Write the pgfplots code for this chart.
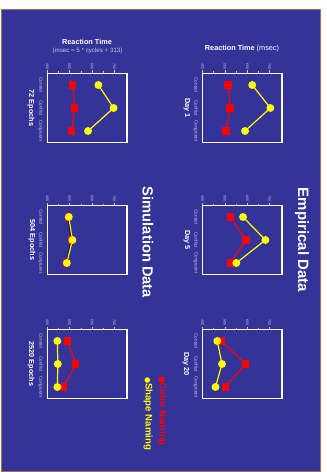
\documentclass[border=0pt]{standalone}
\usepackage{pgfplots}
\pgfplotsset{compat=1.18}
\usepackage{fontspec}
\setmainfont{Liberation Sans}
\newfontfamily\symfont{DejaVu Sans}
\definecolor{slidebg}{RGB}{51,51,153}
\definecolor{slideedge}{RGB}{170,110,60}
\definecolor{framec}{RGB}{255,255,225}
\definecolor{ticklab}{RGB}{200,200,215}
\definecolor{cred}{RGB}{255,0,0}
\definecolor{cyel}{RGB}{255,255,0}
\pgfplotsset{
 panel/.style={
  scale only axis, width=79.5pt, height=69pt,
  xmin=400, xmax=755, ymin=-0.5, ymax=2.5, y dir=reverse,
  axis line style={draw=framec, line width=1.5pt},
  xtick={400,500,600,700}, xticklabels={400,500,600,700},
  minor xtick={450,550,650},
  xtick pos=right, xticklabel pos=right,
  tick align=outside,
  major tick length=3pt, minor tick length=2pt,
  xtick style={draw=ticklab, line width=0.5pt},
  minor tick style={draw=ticklab, line width=0.5pt},
  xticklabel style={rotate=-90, anchor=east, font=\fontsize{3.6}{4}\selectfont, text=ticklab, inner sep=0.8pt},
  ytick={0,1,2}, yticklabels={Control,Conflict,Congruent},
  ytick style={draw=none},
  yticklabel style={rotate=-90, anchor=north, font=\fontsize{4.6}{5}\selectfont, text=ticklab, inner sep=1.5pt},
  clip=false,
 },
 redser/.style={cred, line width=1.2pt, mark=square*, mark size=3pt, mark options={fill=cred, draw=cred}},
 yelser/.style={cyel, line width=1.2pt, mark=*, mark size=3.3pt, mark options={fill=cyel, draw=cyel}},
}
\begin{document}
\begin{tikzpicture}
\fill[white] (0,0) rectangle (327pt,472pt);
\path[use as bounding box] (0,0) rectangle (327pt,472pt);
\filldraw[fill=slidebg, draw=slideedge, line width=0.8pt] (1pt,0.5pt) rectangle (320.5pt,463pt);

% Empirical column
\begin{axis}[panel, at={(202.5pt,329.5pt)}, anchor=south west]
\addplot[redser] coordinates {(514,0) (523,1) (505,2)};
\addplot[yelser] coordinates {(622,0) (703,1) (590,2)};
\end{axis}
\begin{axis}[panel, at={(202.5pt,197.5pt)}, anchor=south west]
\addplot[redser] coordinates {(524,0) (594,1) (524,2)};
\addplot[yelser] coordinates {(581,0) (681,1) (551,2)};
\end{axis}
\begin{axis}[panel, at={(202.5pt,73.5pt)}, anchor=south west]
\addplot[redser] coordinates {(484,0) (593,1) (501,2)};
\addplot[yelser] coordinates {(466,0) (487,1) (458,2)};
\end{axis}

% Simulation column
\begin{axis}[panel, at={(47.3pt,329.5pt)}, anchor=south west]
\addplot[redser] coordinates {(514,0) (521,1) (509,2)};
\addplot[yelser] coordinates {(628,0) (696,1) (582,2)};
\end{axis}
\begin{axis}[panel, at={(47.3pt,197.5pt)}, anchor=south west]
\addplot[redser, draw=black] coordinates {(493,0) (508,1) (485,2)};
\addplot[yelser] coordinates {(496,0) (512,1) (487,2)};
\end{axis}
\begin{axis}[panel, at={(47.3pt,73.5pt)}, anchor=south west]
\addplot[redser] coordinates {(490,0) (527,1) (472,2)};
\addplot[yelser] coordinates {(445,0) (447,1) (445,2)};
\end{axis}

% Axis titles
\node[text=white, font=\fontsize{7.3}{8}\selectfont] at (242pt,423pt) {\textbf{Reaction Time} (msec)};
\node[text=white, font=\fontsize{7.3}{8}\selectfont\bfseries] at (87pt,430pt) {Reaction Time};
\node[text=ticklab, font=\fontsize{6.2}{7}\selectfont] at (87.5pt,421pt) {(msec = 5 * cycles + 313)};

% Panel labels
\begin{scope}[every node/.style={text=white, rotate=-90, font=\fontsize{7.3}{8}\selectfont\bfseries}]
\node at (187pt,364pt) {Day 1};
\node at (187pt,232pt) {Day 5};
\node at (186pt,108pt) {Day 20};
\node at (31pt,364pt) {72 Epochs};
\node at (32pt,232pt) {504 Epochs};
\node at (31pt,108pt) {2520 Epochs};
\end{scope}

% Big titles
\node[text=white, rotate=-90, font=\fontsize{15}{17}\selectfont\bfseries] at (302pt,232pt) {Empirical Data};
\node[text=white, rotate=-90, font=\fontsize{14.7}{17}\selectfont\bfseries] at (148pt,229.5pt) {Simulation Data};

% Legend
\node[text=cred, rotate=-90, anchor=west, inner sep=0pt, font=\fontsize{9.6}{12}\selectfont\bfseries] at (162pt,96pt) {{\symfont\fontsize{7}{8}\selectfont ■}Color Naming};
\node[text=cyel, rotate=-90, anchor=west, inner sep=0pt, font=\fontsize{9.6}{12}\selectfont\bfseries] at (148pt,95pt) {{\symfont\fontsize{7}{8}\selectfont ●}Shape Naming};
\end{tikzpicture}
\end{document}
